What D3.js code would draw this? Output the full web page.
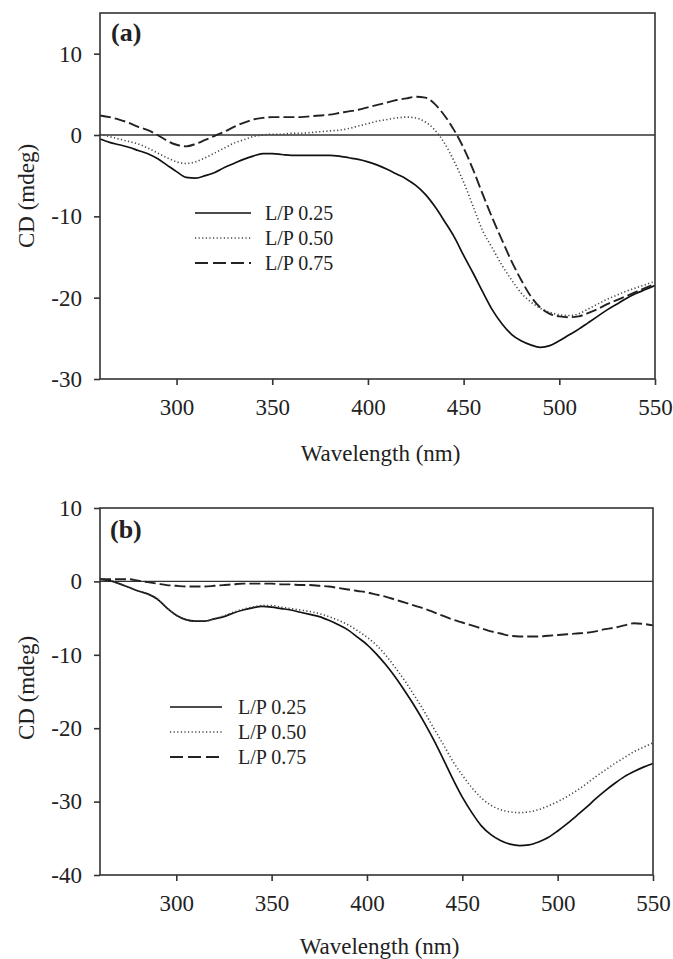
<!DOCTYPE html>
<html>
<head>
<meta charset="utf-8">
<script src="https://cdn.jsdelivr.net/npm/d3@7/dist/d3.min.js"></script>
<style>
  html, body { margin: 0; padding: 0; background: #fff; }
  svg { display: block; }
  text { font-family: "Liberation Serif", "Times New Roman", Times, serif; fill: #222; }
</style>
</head>
<body>
<svg id="chart" width="673" height="959"></svg>
<script>
// ---------- DATA ----------
const wavelengths = d3.range(260, 551, 5); // nm, 5 nm step
const seriesNames = ["L/P 0.25", "L/P 0.50", "L/P 0.75"];

// Panel (a)
const a_LP025 = [-0.5,-0.9,-1.2,-1.5,-1.9,-2.3,-2.9,-3.7,-4.5,-5.2,-5.3,-5.0,-4.6,-4.0,-3.5,-3.0,-2.6,-2.3,-2.3,-2.4,
  -2.5,-2.5,-2.5,-2.5,-2.5,-2.6,-2.8,-3.0,-3.3,-3.7,-4.2,-4.8,-5.4,-6.2,-7.3,-8.8,-10.6,-12.5,-14.8,-17.0,
  -19.3,-21.5,-23.2,-24.5,-25.3,-25.8,-26.1,-25.9,-25.3,-24.6,-23.9,-23.1,-22.3,-21.5,-20.8,-20.1,-19.5,-19.0,-18.5];
const a_LP050 = [0.1,-0.2,-0.5,-0.8,-1.1,-1.6,-2.2,-2.8,-3.3,-3.5,-3.3,-2.8,-2.2,-1.6,-1.0,-0.6,-0.2,0.0,0.1,0.1,
  0.2,0.2,0.3,0.4,0.5,0.6,0.8,1.1,1.4,1.7,1.9,2.1,2.2,2.1,1.6,0.6,-1.0,-3.2,-5.8,-8.8,
  -11.8,-13.9,-16.0,-17.8,-19.4,-20.5,-21.3,-21.8,-22.1,-22.2,-22.0,-21.4,-20.8,-20.2,-19.7,-19.2,-18.8,-18.4,-18.0];
const a_LP075 = [2.4,2.2,1.9,1.5,1.0,0.6,0.0,-0.7,-1.2,-1.4,-1.1,-0.6,-0.1,0.4,1.0,1.5,1.9,2.1,2.2,2.2,
  2.2,2.2,2.3,2.4,2.5,2.7,2.9,3.1,3.4,3.7,4.0,4.3,4.5,4.7,4.6,3.8,2.4,0.6,-1.6,-4.3,
  -7.3,-10.2,-12.9,-15.5,-17.8,-19.8,-21.2,-22.0,-22.3,-22.4,-22.3,-21.9,-21.4,-20.8,-20.3,-19.8,-19.3,-18.8,-18.3];

// Panel (b)
const b_LP025 = [0.3,0.1,-0.3,-0.8,-1.3,-1.7,-2.4,-3.6,-4.6,-5.2,-5.4,-5.4,-5.1,-4.8,-4.3,-3.9,-3.6,-3.4,-3.5,-3.7,
  -3.9,-4.2,-4.5,-4.8,-5.3,-5.9,-6.6,-7.6,-8.6,-9.9,-11.4,-13.1,-15.0,-17.0,-19.2,-21.6,-24.2,-26.9,-29.4,-31.5,
  -33.3,-34.5,-35.3,-35.8,-36.0,-35.9,-35.5,-34.9,-34.0,-33.0,-31.9,-30.8,-29.6,-28.5,-27.5,-26.6,-25.9,-25.3,-24.8];
const b_LP050 = [0.3,0.1,-0.3,-0.8,-1.3,-1.7,-2.4,-3.6,-4.6,-5.2,-5.4,-5.4,-5.1,-4.7,-4.2,-3.8,-3.5,-3.3,-3.3,-3.5,
  -3.7,-3.9,-4.1,-4.4,-4.8,-5.3,-5.9,-6.7,-7.6,-8.7,-10.1,-11.8,-13.6,-15.6,-17.7,-20.0,-22.2,-24.5,-26.4,-28.1,
  -29.5,-30.5,-31.1,-31.4,-31.5,-31.4,-31.1,-30.6,-30.0,-29.3,-28.5,-27.6,-26.6,-25.7,-24.8,-24.0,-23.2,-22.6,-22.0];
const b_LP075 = [0.3,0.3,0.3,0.3,0.1,-0.1,-0.3,-0.5,-0.6,-0.7,-0.7,-0.7,-0.6,-0.5,-0.4,-0.3,-0.3,-0.3,-0.3,-0.4,
  -0.4,-0.5,-0.5,-0.6,-0.7,-0.9,-1.1,-1.3,-1.5,-1.8,-2.1,-2.5,-2.9,-3.3,-3.7,-4.2,-4.7,-5.2,-5.6,-6.0,
  -6.4,-6.8,-7.1,-7.4,-7.5,-7.5,-7.5,-7.4,-7.3,-7.2,-7.1,-7.0,-6.8,-6.5,-6.3,-6.0,-5.7,-5.8,-6.0];

const xTicks = [300, 350, 400, 450, 500, 550];
const xDomain = [260, 550];
const a_yTicks = [10, 0, -10, -20, -30];
const a_yDomain = [-30, 15];
const b_yTicks = [10, 0, -10, -20, -30, -40];
const b_yDomain = [-40, 10];
const xTitle = "Wavelength (nm)";
const yTitle = "CD (mdeg)";

// ---------- STYLES ----------
const styles = [
  { stroke: "#111", width: 1.7, dash: null },
  { stroke: "#444", width: 1.6, dash: "1.2,2.4" },
  { stroke: "#222", width: 1.9, dash: "11,4" }
];

const svg = d3.select("#chart");

function drawPanel(cfg) {
  const x = d3.scaleLinear().domain(xDomain).range([cfg.left, cfg.right]);
  const y = d3.scaleLinear().domain(cfg.yDomain).range([cfg.bottom, cfg.top]);
  const g = svg.append("g");

  // zero line
  g.append("line")
    .attr("x1", x(xDomain[0])).attr("x2", x(xDomain[1]))
    .attr("y1", y(0)).attr("y2", y(0))
    .attr("stroke", "#333").attr("stroke-width", 1.4);

  // curves
  const line = d3.line()
    .x((d, i) => x(wavelengths[i]))
    .y(d => y(d))
    .curve(d3.curveMonotoneX);
  cfg.series.forEach((s, i) => {
    g.append("path")
      .attr("d", line(s))
      .attr("fill", "none")
      .attr("stroke", styles[i].stroke)
      .attr("stroke-width", styles[i].width)
      .attr("stroke-dasharray", styles[i].dash)
      .attr("stroke-linejoin", "round");
  });

  // frame
  g.append("rect")
    .attr("x", cfg.left).attr("y", cfg.top)
    .attr("width", cfg.right - cfg.left).attr("height", cfg.bottom - cfg.top)
    .attr("fill", "none").attr("stroke", "#333").attr("stroke-width", 1.6);

  // axes
  const xAxis = g.append("g")
    .attr("transform", `translate(0,${cfg.bottom})`)
    .call(d3.axisBottom(x).tickValues(xTicks).tickSize(6).tickPadding(14).tickFormat(d3.format("d")));
  const yAxis = g.append("g")
    .attr("transform", `translate(${cfg.left},0)`)
    .call(d3.axisLeft(y).tickValues(cfg.yTicks).tickSize(6).tickPadding(12).tickFormat(d => d < 0 ? "-" + Math.abs(d) : d));
  [xAxis, yAxis].forEach(ax => {
    ax.select(".domain").remove();
    ax.selectAll(".tick line").attr("stroke", "#333").attr("stroke-width", 1.6);
    ax.selectAll(".tick text").attr("font-size", 23).attr("fill", "#222")
      .attr("font-family", '"Liberation Serif", "Times New Roman", serif');
  });

  // axis titles
  g.append("text")
    .attr("x", (cfg.left + cfg.right) / 2 + 3)
    .attr("y", cfg.xTitleY)
    .attr("text-anchor", "middle")
    .attr("font-size", 23)
    .text(xTitle);
  g.append("text")
    .attr("transform", `translate(${cfg.yTitleX},${cfg.yTitleCY}) rotate(-90)`)
    .attr("text-anchor", "middle")
    .attr("dy", "0.35em")
    .attr("font-size", 23)
    .text(yTitle);

  // panel label
  g.append("text")
    .attr("x", cfg.labelX).attr("y", cfg.labelY)
    .attr("font-size", 26).attr("font-weight", "bold")
    .text(cfg.label);

  // legend
  seriesNames.forEach((name, i) => {
    const ly = cfg.legY + i * cfg.legStep;
    g.append("line")
      .attr("x1", cfg.legX1).attr("x2", cfg.legX2)
      .attr("y1", ly).attr("y2", ly)
      .attr("stroke", styles[i].stroke)
      .attr("stroke-width", styles[i].width)
      .attr("stroke-dasharray", i === 2 ? "13,5" : styles[i].dash);
    g.append("text")
      .attr("x", cfg.legTextX).attr("y", ly)
      .attr("dy", "0.35em")
      .attr("font-size", 20)
      .text(name);
  });
}

drawPanel({
  left: 100, right: 655, top: 13, bottom: 379,
  yDomain: a_yDomain, yTicks: a_yTicks,
  series: [a_LP025, a_LP050, a_LP075],
  xTitleY: 461, yTitleX: 26, yTitleCY: 196,
  label: "(a)", labelX: 111, labelY: 41,
  legX1: 195, legX2: 251, legTextX: 265, legY: 213, legStep: 25
});

drawPanel({
  left: 100, right: 653, top: 508, bottom: 875,
  yDomain: b_yDomain, yTicks: b_yTicks,
  series: [b_LP025, b_LP050, b_LP075],
  xTitleY: 954, yTitleX: 26, yTitleCY: 688,
  label: "(b)", labelX: 110, labelY: 538,
  legX1: 170, legX2: 222, legTextX: 238, legY: 707, legStep: 25
});
</script>
</body>
</html>
